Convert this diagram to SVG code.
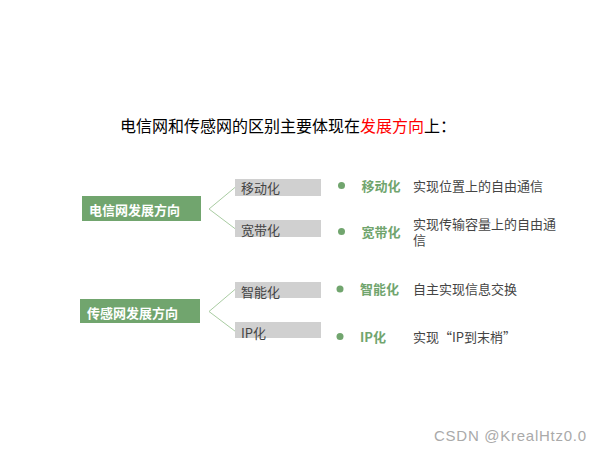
<svg xmlns="http://www.w3.org/2000/svg" width="600" height="450" viewBox="0 0 600 450">
<style>
text{font-family:"Noto Sans CJK SC","Liberation Sans",sans-serif}
.title{font-size:16px;fill:#000}
.red{fill:#ff0000}
.gbox{fill:#71a56e}
.gtxt{font-size:13px;font-weight:bold;fill:#fff}
.sbox{fill:#d0d0d0}
.stxt{font-size:13px;fill:#444}
.dot{fill:#71a56e}
.lbl{font-size:13px;font-weight:bold;fill:#71a56e}
.desc{font-size:13px;fill:#444}
.conn{fill:none;stroke:#a9cca2;stroke-width:1}
.wm{font-family:"Liberation Sans",sans-serif;font-size:15px;fill:#aaa}
</style>
<rect width="600" height="450" fill="#fff"/>
<text class="title" x="120" y="132">电信网和传感网的区别主要体现在<tspan class="red">发展方向</tspan>上：</text>
<g id="connectors">
<polyline class="conn" points="235.5,187 209,209 235.5,229"/>
<polyline class="conn" points="235.5,289 209,311.5 235.5,331.5"/>
</g>
<g id="telecom">
<rect class="gbox" x="82" y="196" width="119" height="25"/>
<text class="gtxt" x="89" y="215">电信网发展方向</text>
</g>
<g id="sensor">
<rect class="gbox" x="80" y="299" width="120" height="24"/>
<text class="gtxt" x="87" y="317.5">传感网发展方向</text>
</g>
<g id="mobile">
<rect class="sbox" x="235" y="179" width="86" height="17"/>
<text class="stxt" x="241" y="193">移动化</text>
</g>
<g id="broadband">
<rect class="sbox" x="235" y="220" width="86" height="17"/>
<text class="stxt" x="241" y="235">宽带化</text>
</g>
<g id="smart">
<rect class="sbox" x="235" y="282" width="86" height="16"/>
<text class="stxt" x="241" y="296.5">智能化</text>
</g>
<g id="ip">
<rect class="sbox" x="235" y="322" width="86" height="16"/>
<text class="stxt" x="241" y="337.5">IP化</text>
</g>
<g id="item-mobile">
<circle class="dot" cx="341.5" cy="185.5" r="3.5"/>
<text class="lbl" x="361.5" y="190.5">移动化</text>
<text class="desc" x="413" y="190.5">实现位置上的自由通信</text>
</g>
<g id="item-broadband">
<circle class="dot" cx="341.5" cy="231.5" r="3.5"/>
<text class="lbl" x="361.5" y="236.5">宽带化</text>
<text class="desc" x="413" y="229">实现传输容量上的自由通</text>
<text class="desc" x="413" y="245">信</text>
</g>
<g id="item-smart">
<circle class="dot" cx="340" cy="289" r="3.5"/>
<text class="lbl" x="360" y="294">智能化</text>
<text class="desc" x="413" y="294">自主实现信息交换</text>
</g>
<g id="item-ip">
<circle class="dot" cx="340" cy="336.5" r="3.5"/>
<text class="lbl" x="360" y="341.5">IP化</text>
<text class="desc" x="413" y="341.5">实现“IP到末梢”</text>
</g>
<text class="wm" x="434" y="440.5" textLength="152">CSDN @KrealHtz0.0</text>
</svg>
